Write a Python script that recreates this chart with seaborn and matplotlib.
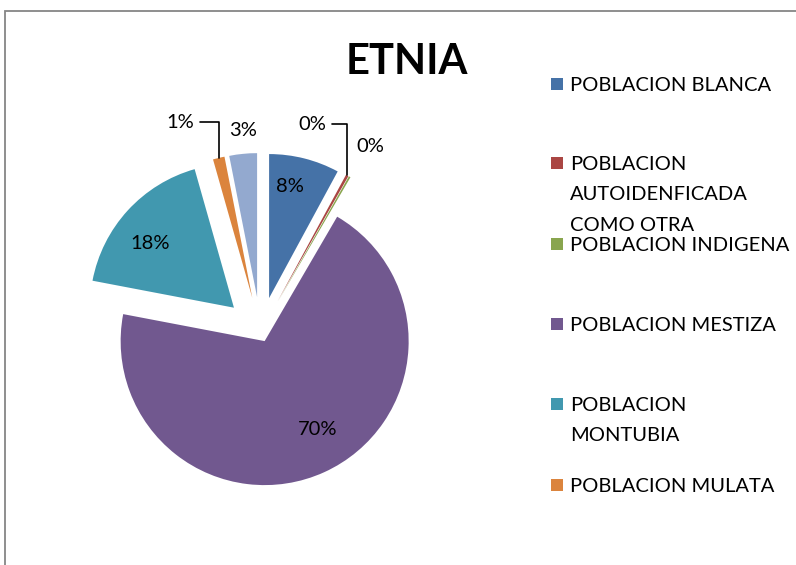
import numpy as np
import matplotlib.pyplot as plt
import seaborn as sns
from matplotlib.patches import Rectangle

# data
categories = [
    "POBLACION BLANCA",
    "POBLACION\nAUTOIDENFICADA\nCOMO OTRA",
    "POBLACION INDIGENA",
    "POBLACION MESTIZA",
    "POBLACION\nMONTUBIA",
    "POBLACION MULATA",
    "POBLACION NEGRA",
]
shares = [7.9, 0.3, 0.2, 69.6, 17.6, 1.3, 3.1]
colors = ["#4572A7", "#AA4643", "#89A54E", "#71588F", "#4198AF", "#DB843D", "#93A9CF"]
title = "ETNIA"

sns.set_theme(style="white")
plt.rcParams["font.family"] = ["Lato", "DejaVu Sans"]
plt.rcParams["text.color"] = "black"

W, H = 796, 565
fig = plt.figure(figsize=(W / 100, H / 100), dpi=100)
ax = fig.add_axes([0, 0, 1, 1])

# pie in pixel units (explode is an absolute offset in matplotlib)
cx, cy, r = 260.5, H - 332, 144
explode = [35, 35, 35, 10, 36, 35, 35]
wedges, _ = ax.pie(
    shares, colors=colors, explode=explode, startangle=90,
    counterclock=False, center=(cx, cy), radius=r,
    wedgeprops={"linewidth": 0},
)
ax.set_xlim(0, W)
ax.set_ylim(0, H)
ax.set_aspect("equal")
ax.axis("off")

total = sum(shares)
pct = [f"{v / total * 100:.0f}%" for v in shares]
fs = 14.5


def mid(w, frac, shift=0.0):
    a = np.deg2rad((w.theta1 + w.theta2) / 2 + shift)
    return w.center[0] + frac * w.r * np.cos(a), w.center[1] + frac * w.r * np.sin(a)


# big slices: labels inside (distance as fraction of radius, angle nudge)
inside = {0: (0.79, 3.5), 3: (0.715, 6.5), 4: (0.735, 5.0)}
for i, (frac, shift) in inside.items():
    x, y = mid(wedges[i], frac, shift)
    ax.text(x, y, pct[i], ha="center", va="center", fontsize=fs)

# small slices: outside labels, some with elbow leader lines
outside = {1: (312, H - 124, True), 2: (370, H - 147, False),
           5: (180, H - 122, True), 6: (243, H - 130, False)}
for i, (tx, ty, leader) in outside.items():
    tip = mid(wedges[i], 1.0)
    if leader:
        ax.annotate(pct[i], xy=tip, xytext=(tx, ty), ha="center", va="center",
                    fontsize=fs,
                    arrowprops=dict(arrowstyle="-", color="black", lw=1.2,
                                    shrinkA=2, shrinkB=0, relpos=(1, 0.5),
                                    connectionstyle="angle,angleA=0,angleB=90,rad=0"))
    else:
        ax.text(tx, ty, pct[i], ha="center", va="center", fontsize=fs)

ax.text(407, H - 62, title, ha="center", va="center", fontsize=30, fontweight="bold")

# legend (only the first six entries fit, as in the reference)
leg_y = [84, 163, 244, 324, 404, 485]
for i, ly in enumerate(leg_y):
    ax.add_patch(Rectangle((551, H - ly - 6), 12, 12, color=wedges[i].get_facecolor(),
                           linewidth=0))
    ax.text(570, H - ly + 7, categories[i], ha="left", va="top", fontsize=fs,
            linespacing=1.95)

# chart frame, cut by the image edges
ax.add_patch(Rectangle((4.5, -50), 1000, H - 10.5 + 50, fill=False,
                       edgecolor="#868686", linewidth=1.3, clip_on=False))

fig.savefig("out.png", dpi=100, facecolor="white")
